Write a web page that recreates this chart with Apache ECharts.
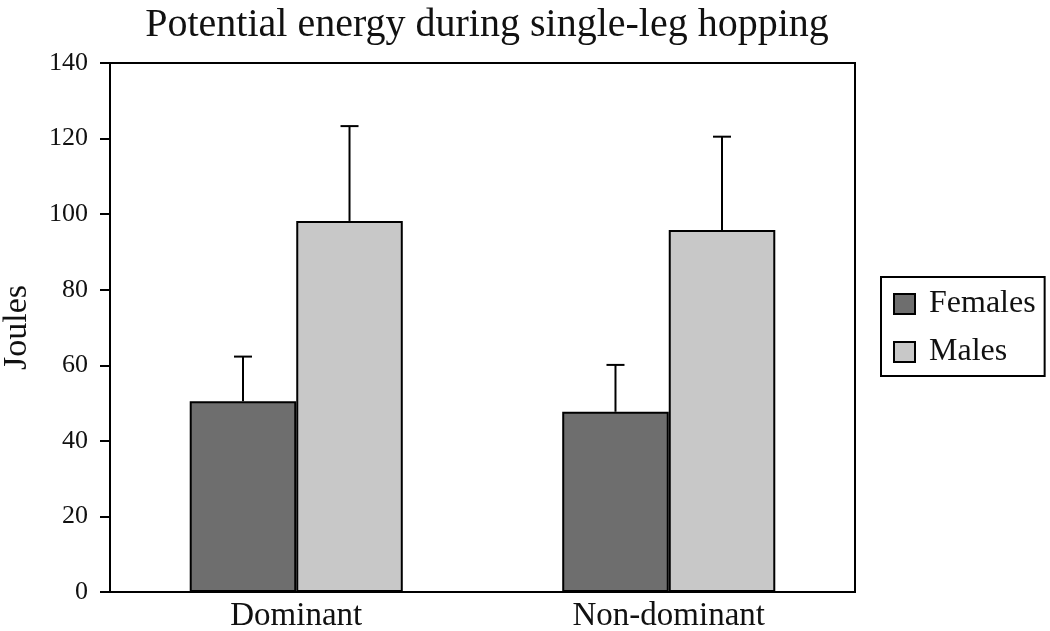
<!DOCTYPE html>
<html>
<head>
<meta charset="utf-8">
<script src="https://cdn.jsdelivr.net/npm/echarts@6/dist/echarts.min.js"></script>
<style>html,body{margin:0;padding:0;background:#fff;}#c{width:1050px;height:631px;}</style>
</head>
<body>
<div id="c"></div>
<script>
const categories = ['Dominant', 'Non-dominant'];
const females = [50.5, 47.7];
const femalesErr = [62.3, 60.1];
const males = [98.2, 95.8];
const malesErr = [123.3, 120.5];
const yTicks = [0, 20, 40, 60, 80, 100, 120, 140];

const chart = echarts.init(document.getElementById('c'));
const font = 'Liberation Serif';

function errSeries(name, tops, vals, offsetIdx) {
  return {
    type: 'custom',
    name: name + ' err',
    z: 10,
    data: vals.map((v, i) => [i, v, tops[i]]),
    renderItem: function (params, api) {
      const ci = api.value(0);
      const base = api.coord([ci, api.value(1)]);
      const top = api.coord([ci, api.value(2)]);
      const bw = api.size([1, 0])[0];
      const barW = bw * (1 - 0.428) / 2;
      const x = base[0] + (offsetIdx === 0 ? -barW / 2 : barW / 2);
      const cap = 9;
      return {
        type: 'group',
        children: [
          { type: 'line', shape: { x1: x, y1: base[1], x2: x, y2: top[1] }, style: { stroke: '#000', lineWidth: 2 } },
          { type: 'line', shape: { x1: x - cap, y1: top[1], x2: x + cap, y2: top[1] }, style: { stroke: '#000', lineWidth: 2 } }
        ]
      };
    }
  };
}

chart.setOption({
  animation: false,
  backgroundColor: '#fff',
  title: {
    text: 'Potential energy during single-leg hopping',
    left: 482, textAlign: 'center', top: 0,
    textStyle: { fontFamily: font, fontSize: 40, fontWeight: 'normal', color: '#111' }
  },
  legend: {
    orient: 'vertical',
    left: 881, top: 277,
    data: ['Females', 'Males'],
    itemWidth: 21, itemHeight: 20, itemGap: 16,
    padding: [11, 9, 8, 12],
    borderColor: '#000', borderWidth: 2,
    icon: 'rect',
    textStyle: { fontFamily: font, fontSize: 32, lineHeight: 32, color: '#111', padding: [0, 0, 0, 9] }
  },
  grid: { left: 110, right: 195, top: 63, bottom: 39, show: true, borderColor: '#000', borderWidth: 2, outerBoundsMode: 'none', containLabel: false },
  xAxis: {
    type: 'category', data: categories,
    axisLine: { lineStyle: { color: '#000', width: 2 } },
    axisTick: { show: false },
    axisLabel: { fontFamily: font, fontSize: 33, color: '#111', margin: 8 }
  },
  yAxis: {
    type: 'value', min: 0, max: 140, interval: 20,
    name: 'Joules', nameLocation: 'middle', nameGap: 76, nameRotate: 90,
    nameTextStyle: { fontFamily: font, fontSize: 34, color: '#111' },
    splitLine: { show: false },
    axisLine: { show: true, lineStyle: { color: '#000', width: 2 } },
    axisTick: { show: true, inside: false, length: 10, lineStyle: { color: '#000', width: 2 } },
    axisLabel: { fontFamily: font, fontSize: 26, color: '#111', margin: 22,
      formatter: v => yTicks.includes(v) ? String(v) : '' }
  },
  series: [
    { name: 'Females', type: 'bar', data: females, barGap: '0%', barCategoryGap: '42.8%',
      itemStyle: { color: '#6e6e6e', borderColor: '#000', borderWidth: 2 } },
    { name: 'Males', type: 'bar', data: males,
      itemStyle: { color: '#c8c8c8', borderColor: '#000', borderWidth: 2 } },
    errSeries('Females', femalesErr, females, 0),
    errSeries('Males', malesErr, males, 1)
  ]
});
</script>
</body>
</html>
